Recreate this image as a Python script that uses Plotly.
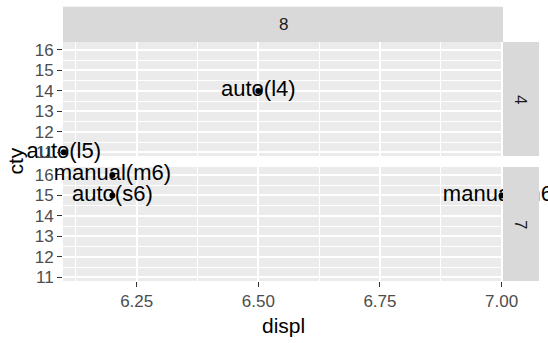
import plotly.graph_objects as go

# Data
col_facet = "8"
row_facets = ["4", "7"]
top_displ = [6.1, 6.5]
top_cty = [11, 14]
top_labels = ["auto(l5)", "auto(l4)"]
bot_displ = [6.2, 6.2, 7.0]
bot_cty = [16, 15, 15]
bot_labels = ["manual(m6)", "auto(s6)", "manual(m6)"]
x_ticks = [6.25, 6.5, 6.75, 7.0]
x_ticktext = ["6.25", "6.50", "6.75", "7.00"]
y_ticks = [11, 12, 13, 14, 15, 16]

W, H = 548, 343
L, R, T, B = 63, 45, 42, 62
PW = W - L - R
PH = H - T - B
top_dom = [(281 - 156) / PH, 1.0]
bot_dom = [0.0, (281 - 167) / PH]

FONT = "Liberation Sans, Arial, sans-serif"
PANEL = "#EBEBEB"
STRIP = "#D9D9D9"

fig = go.Figure()
fig.add_trace(go.Scatter(
    x=top_displ, y=top_cty, text=top_labels, mode="markers+text",
    textposition="middle center", cliponaxis=False,
    marker=dict(color="black", size=6),
    textfont=dict(family=FONT, size=22, color="black"),
    xaxis="x", yaxis="y", showlegend=False, hoverinfo="skip"))
fig.add_trace(go.Scatter(
    x=bot_displ, y=bot_cty, text=bot_labels, mode="markers+text",
    textposition="middle center", cliponaxis=False,
    marker=dict(color="black", size=6),
    textfont=dict(family=FONT, size=22, color="black"),
    xaxis="x2", yaxis="y2", showlegend=False, hoverinfo="skip"))

xr = [6.0985, 7.003]
yr = [10.82, 16.39]
common_x = dict(range=xr, tickvals=x_ticks, ticktext=x_ticktext,
                showgrid=True, gridcolor="white", gridwidth=1.5,
                minor=dict(dtick=0.25, tick0=6.125, showgrid=True, gridcolor="white", gridwidth=0.7),
                zeroline=False, showline=False)
common_y = dict(range=yr, tickvals=y_ticks,
                showgrid=True, gridcolor="white", gridwidth=1.5,
                minor=dict(dtick=1, tick0=10.5, showgrid=True, gridcolor="white", gridwidth=0.7),
                zeroline=False, showline=False,
                ticks="outside", ticklen=5, tickwidth=1, tickcolor="#333333",
                tickfont=dict(family=FONT, size=17, color="#4D4D4D"))

fig.update_layout(
    width=W, height=H,
    margin=dict(l=L, r=R, t=T, b=B),
    paper_bgcolor="white", plot_bgcolor=PANEL,
    xaxis=dict(domain=[0, 1], anchor="y", showticklabels=False, ticks="", **common_x),
    yaxis=dict(domain=top_dom, anchor="x", **common_y),
    xaxis2=dict(domain=[0, 1], anchor="y2", showticklabels=True, ticks="outside",
                ticklen=5, tickwidth=1, tickcolor="#333333",
                tickfont=dict(family=FONT, size=17, color="#4D4D4D"), **common_x),
    yaxis2=dict(domain=bot_dom, anchor="x2", **common_y),
)

# strips
shapes = [
    dict(type="rect", xref="paper", yref="paper", x0=0, x1=1, y0=1, y1=1 + (42 - 6.7) / PH,
         fillcolor=STRIP, line=dict(width=0), layer="above"),
    dict(type="rect", xref="paper", yref="paper", x0=1, x1=1 + 36 / PW, y0=top_dom[0], y1=top_dom[1],
         fillcolor=STRIP, line=dict(width=0), layer="above"),
    dict(type="rect", xref="paper", yref="paper", x0=1, x1=1 + 36 / PW, y0=bot_dom[0], y1=bot_dom[1],
         fillcolor=STRIP, line=dict(width=0), layer="above"),
]
fig.update_layout(shapes=shapes)

ann = [
    dict(text=col_facet, xref="paper", yref="paper", x=0.5, y=1 + (42 - 6.7) / 2 / PH,
         showarrow=False, font=dict(family=FONT, size=17, color="#1A1A1A"),
         xanchor="center", yanchor="middle"),
    dict(text=row_facets[0], xref="paper", yref="paper", x=1 + 18 / PW, y=sum(top_dom) / 2,
         showarrow=False, textangle=90, font=dict(family=FONT, size=17, color="#1A1A1A"),
         xanchor="center", yanchor="middle"),
    dict(text=row_facets[1], xref="paper", yref="paper", x=1 + 18 / PW, y=sum(bot_dom) / 2,
         showarrow=False, textangle=90, font=dict(family=FONT, size=17, color="#1A1A1A"),
         xanchor="center", yanchor="middle"),
    dict(text="displ", xref="paper", yref="paper", x=0.5, y=-(325 - 281) / PH,
         showarrow=False, font=dict(family=FONT, size=21, color="black"),
         xanchor="center", yanchor="middle"),
    dict(text="cty", xref="paper", yref="paper", x=-(63 - 15) / PW, y=0.5,
         showarrow=False, textangle=-90, font=dict(family=FONT, size=21, color="black"),
         xanchor="center", yanchor="middle"),
]
fig.update_layout(annotations=ann)

fig.write_html("out.html")
